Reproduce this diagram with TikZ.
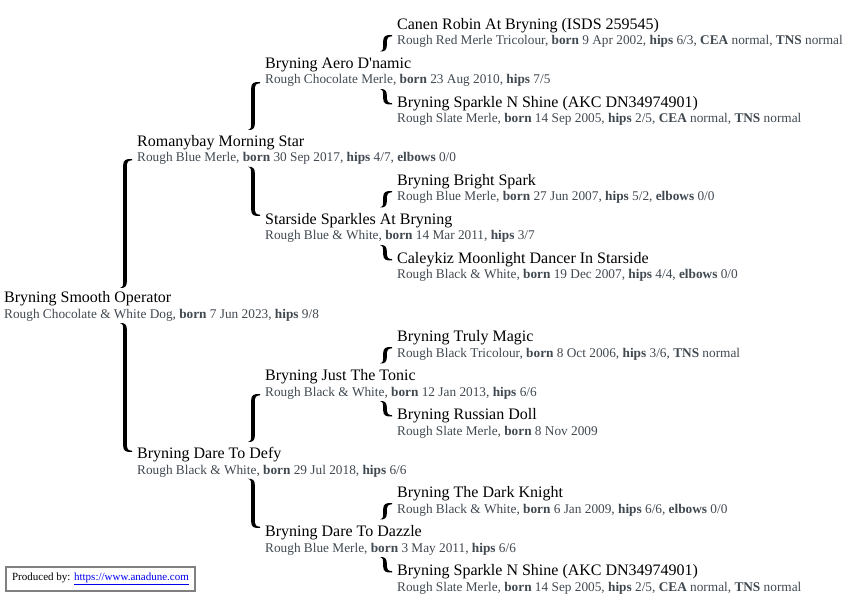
\documentclass[tikz,border=0pt]{standalone}
\usepackage{fontspec}
\setmainfont{Liberation Serif}[Ligatures=TeXOff]
\usetikzlibrary{calc}
\definecolor{detailc}{RGB}{64,72,80}
\definecolor{boxgray}{RGB}{128,128,128}
\definecolor{linkblue}{RGB}{0,0,238}
\tikzset{
  dogname/.style={anchor=base west, inner sep=0pt, font=\fontsize{16}{19}\selectfont, text=black},
  dogdetail/.style={anchor=base west, inner sep=0pt, font=\fontsize{13.3}{15}\selectfont, text=detailc},
  bracefill/.style={fill=black},
}
% upper half of a brace: tip next to the parent's name, hook towards the sire's detail line
\newcommand\sirebrace[4]{%
  \fill[bracefill] let \p1=(#1.base west), \p2=(#2.base west) in
  ({\x2-17pt},{\y1+#3pt}) .. controls ({\x2-13.8pt},{\y1+#3pt+1pt}) and ({\x2-13.8pt},{\y1+#3pt+3pt}) .. ({\x2-13.8pt},{\y1+#3pt+6pt})
  -- ({\x2-13.8pt},{\y2+#4pt-6pt}) .. controls ({\x2-13.8pt},{\y2+#4pt-1pt}) and ({\x2-11pt},{\y2+#4pt+0.3pt}) .. ({\x2-5pt},{\y2+#4pt})
  -- ({\x2-5pt},{\y2+#4pt-1.2pt}) .. controls ({\x2-9pt},{\y2+#4pt-1.8pt}) and ({\x2-10.2pt},{\y2+#4pt-3pt}) .. ({\x2-10.2pt},{\y2+#4pt-6pt})
  -- ({\x2-10.2pt},{\y1+#3pt+6pt}) .. controls ({\x2-10.2pt},{\y1+#3pt+2pt}) and ({\x2-12pt},{\y1+#3pt-0.3pt}) .. ({\x2-17pt},{\y1+#3pt}) -- cycle;
}
% lower half of a brace: tip below the parent's detail line, hook towards the dam's name
\newcommand\dambrace[4]{%
  \fill[bracefill] let \p1=(#1.base west), \p2=(#2.base west) in
  ({\x2-17pt},{\y1-#3pt}) .. controls ({\x2-13.8pt},{\y1-#3pt-1pt}) and ({\x2-13.8pt},{\y1-#3pt-3pt}) .. ({\x2-13.8pt},{\y1-#3pt-6pt})
  -- ({\x2-13.8pt},{\y2+#4pt+6pt}) .. controls ({\x2-13.8pt},{\y2+#4pt+1pt}) and ({\x2-11pt},{\y2+#4pt-0.3pt}) .. ({\x2-5pt},{\y2+#4pt})
  -- ({\x2-5pt},{\y2+#4pt+1.2pt}) .. controls ({\x2-9pt},{\y2+#4pt+1.8pt}) and ({\x2-10.2pt},{\y2+#4pt+3pt}) .. ({\x2-10.2pt},{\y2+#4pt+6pt})
  -- ({\x2-10.2pt},{\y1-#3pt-6pt}) .. controls ({\x2-10.2pt},{\y1-#3pt-2pt}) and ({\x2-12pt},{\y1-#3pt+0.3pt}) .. ({\x2-17pt},{\y1-#3pt}) -- cycle;
}
\begin{document}
\begin{tikzpicture}[x=1pt,y=-1pt]
\useasboundingbox (0,0) rectangle (855,615);
% generation 3
\node[dogname] (n0) at (397,29.5) {Canen Robin At Bryning (ISDS 259545)};
\node[dogdetail] (d0) at (397,45) {Rough Red Merle Tricolour, \textbf{born} 9 Apr 2002, \textbf{hips} 6/3, \textbf{CEA} normal, \textbf{TNS} normal};
\node[dogname] (n2) at (397,107.5) {Bryning Sparkle N Shine (AKC DN34974901)};
\node[dogdetail] (d2) at (397,123) {Rough Slate Merle, \textbf{born} 14 Sep 2005, \textbf{hips} 2/5, \textbf{CEA} normal, \textbf{TNS} normal};
\node[dogname] (n4) at (397,185.5) {Bryning Bright Spark};
\node[dogdetail] (d4) at (397,201) {Rough Blue Merle, \textbf{born} 27 Jun 2007, \textbf{hips} 5/2, \textbf{elbows} 0/0};
\node[dogname] (n6) at (397,263.5) {Caleykiz Moonlight Dancer In Starside};
\node[dogdetail] (d6) at (397,279) {Rough Black \& White, \textbf{born} 19 Dec 2007, \textbf{hips} 4/4, \textbf{elbows} 0/0};
\node[dogname] (n8) at (397,341.5) {Bryning Truly Magic};
\node[dogdetail] (d8) at (397,357) {Rough Black Tricolour, \textbf{born} 8 Oct 2006, \textbf{hips} 3/6, \textbf{TNS} normal};
\node[dogname] (n10) at (397,419.5) {Bryning Russian Doll};
\node[dogdetail] (d10) at (397,435) {Rough Slate Merle, \textbf{born} 8 Nov 2009};
\node[dogname] (n12) at (397,497.5) {Bryning The Dark Knight};
\node[dogdetail] (d12) at (397,513) {Rough Black \& White, \textbf{born} 6 Jan 2009, \textbf{hips} 6/6, \textbf{elbows} 0/0};
\node[dogname] (n14) at (397,575.5) {Bryning Sparkle N Shine (AKC DN34974901)};
\node[dogdetail] (d14) at (397,591) {Rough Slate Merle, \textbf{born} 14 Sep 2005, \textbf{hips} 2/5, \textbf{CEA} normal, \textbf{TNS} normal};
% generation 2
\node[dogname] (n1) at (265,68.5) {Bryning Aero D'namic};
\node[dogdetail] (d1) at (265,84) {Rough Chocolate Merle, \textbf{born} 23 Aug 2010, \textbf{hips} 7/5};
\node[dogname] (n5) at (265,224.5) {Starside Sparkles At Bryning};
\node[dogdetail] (d5) at (265,240) {Rough Blue \& White, \textbf{born} 14 Mar 2011, \textbf{hips} 3/7};
\node[dogname] (n9) at (265,380.5) {Bryning Just The Tonic};
\node[dogdetail] (d9) at (265,396) {Rough Black \& White, \textbf{born} 12 Jan 2013, \textbf{hips} 6/6};
\node[dogname] (n13) at (265,536.5) {Bryning Dare To Dazzle};
\node[dogdetail] (d13) at (265,552) {Rough Blue Merle, \textbf{born} 3 May 2011, \textbf{hips} 6/6};
% generation 1
\node[dogname] (n3) at (137,146.5) {Romanybay Morning Star};
\node[dogdetail] (d3) at (137,162) {Rough Blue Merle, \textbf{born} 30 Sep 2017, \textbf{hips} 4/7, \textbf{elbows} 0/0};
\node[dogname] (n11) at (137,458.5) {Bryning Dare To Defy};
\node[dogdetail] (d11) at (137,474) {Rough Black \& White, \textbf{born} 29 Jul 2018, \textbf{hips} 6/6};
% generation 0
\node[dogname] (n7) at (4,302.5) {Bryning Smooth Operator};
\node[dogdetail] (d7) at (4,318) {Rough Chocolate \& White Dog, \textbf{born} 7 Jun 2023, \textbf{hips} 9/8};
% braces
\sirebrace{n7}{d3}{14.5}{3}
\dambrace{d7}{n11}{5}{6.5}
\sirebrace{n3}{d1}{16.5}{2}
\dambrace{d3}{n5}{4.7}{8.5}
\sirebrace{n11}{d9}{16.5}{2}
\dambrace{d11}{n13}{4.7}{8.5}
\sirebrace{n1}{d0}{17}{10}
\dambrace{d1}{n2}{5}{3}
\sirebrace{n5}{d4}{17}{10}
\dambrace{d5}{n6}{5}{3}
\sirebrace{n9}{d8}{17}{10}
\dambrace{d9}{n10}{5}{3}
\sirebrace{n13}{d12}{17}{10}
\dambrace{d13}{n14}{5}{3}
% credit box
\node[draw=boxgray, line width=2pt, inner sep=0pt, minimum width=189pt, minimum height=24pt, anchor=north west,
      font=\fontsize{11}{13}\selectfont] (credit) at (5,566)
  {Produced by: \textcolor{linkblue}{\underline{https://www.anadune.com}}};
\end{tikzpicture}
\end{document}
